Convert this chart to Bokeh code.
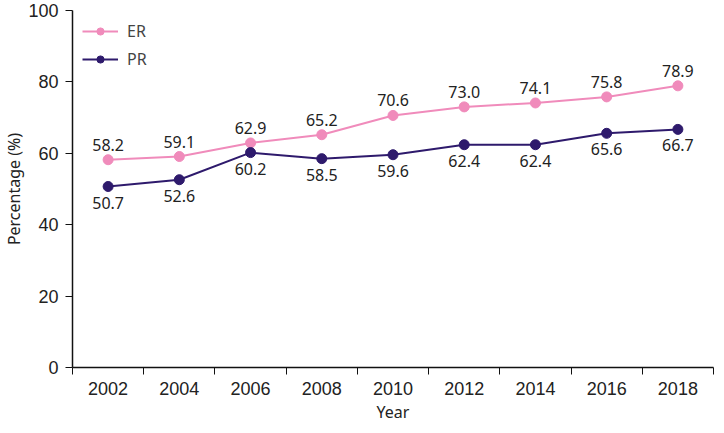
from bokeh.plotting import figure
from bokeh.models import ColumnDataSource, FixedTicker, Range1d, Legend, LegendItem, LabelSet
from bokeh.core.properties import value
from bokeh.embed import file_html
from bokeh.resources import INLINE

years = [2002, 2004, 2006, 2008, 2010, 2012, 2014, 2016, 2018]
er = [58.2, 59.1, 62.9, 65.2, 70.6, 73.0, 74.1, 75.8, 78.9]
pr = [50.7, 52.6, 60.2, 58.5, 59.6, 62.4, 62.4, 65.6, 66.7]
y_ticks = [0, 20, 40, 60, 80, 100]

ER_COLOR = "#f08bbb"
PR_COLOR = "#2e1a6c"

src = ColumnDataSource(dict(
    x=years, er=er, pr=pr,
    er_lbl=[f"{v:.1f}" for v in er],
    pr_lbl=[f"{v:.1f}" for v in pr],
))

p = figure(width=716, height=425, output_backend="svg", toolbar_location=None,
           x_range=Range1d(years[0] - 1, years[-1] + 1), y_range=Range1d(0, 100),
           min_border_left=40, min_border_right=3, min_border_top=10, min_border_bottom=0)
p.outline_line_color = None
p.grid.visible = False

r_er_l = p.line("x", "er", source=src, line_color=ER_COLOR, line_width=2)
r_er_c = p.scatter("x", "er", source=src, size=10, fill_color=ER_COLOR, line_color=ER_COLOR)
r_pr_l = p.line("x", "pr", source=src, line_color=PR_COLOR, line_width=2)
r_pr_c = p.scatter("x", "pr", source=src, size=10, fill_color=PR_COLOR, line_color=PR_COLOR)

p.add_layout(LabelSet(x="x", y="er", text="er_lbl", source=src, y_offset=9,
                      text_align="center", text_baseline="bottom",
                      text_font=value("Noto Sans"), text_font_size="16px", text_color="#222222"))
p.add_layout(LabelSet(x="x", y="pr", text="pr_lbl", source=src, y_offset=-10,
                      text_align="center", text_baseline="top",
                      text_font=value("Noto Sans"), text_font_size="16px", text_color="#222222"))

# axes
p.xaxis.ticker = FixedTicker(ticks=years, minor_ticks=[y - 1 for y in years] + [years[-1] + 1])
p.xaxis.major_tick_out = 0
p.xaxis.major_tick_in = 0
p.xaxis.minor_tick_out = 7
p.xaxis.minor_tick_in = 0
p.xaxis.axis_label = "Year"
p.yaxis.ticker = FixedTicker(ticks=y_ticks)
p.yaxis.major_tick_out = 7
p.yaxis.major_tick_in = 0
p.yaxis.axis_label = "Percentage (%)"

for ax in (p.xaxis, p.yaxis):
    ax.axis_line_color = "#111111"
    ax.axis_line_width = 1.5
    ax.major_tick_line_color = "#111111"
    ax.minor_tick_line_color = "#111111"
    ax.major_label_text_font = "Liberation Sans"
    ax.major_label_text_font_size = "18px"
    ax.major_label_text_color = "#222222"
    ax.axis_label_text_font = "Noto Sans"
    ax.axis_label_text_font_size = "16px"
    ax.axis_label_text_font_style = "normal"
    ax.axis_label_text_color = "#222222"
p.yaxis.minor_tick_line_color = None
p.xaxis.major_label_standoff = 7
p.yaxis.major_label_standoff = 7
p.xaxis.axis_label_standoff = 3
p.yaxis.axis_label_standoff = 0

legend = Legend(items=[LegendItem(label="ER", renderers=[r_er_l, r_er_c]),
                       LegendItem(label="PR", renderers=[r_pr_l, r_pr_c])],
                location="top_left", border_line_color=None, background_fill_alpha=0,
                label_text_font="Noto Sans", label_text_font_size="16px",
                glyph_width=36, glyph_height=18, spacing=6, margin=10, padding=6,
                label_standoff=9)
p.add_layout(legend)

open("out.html", "w").write(file_html(p, INLINE))
